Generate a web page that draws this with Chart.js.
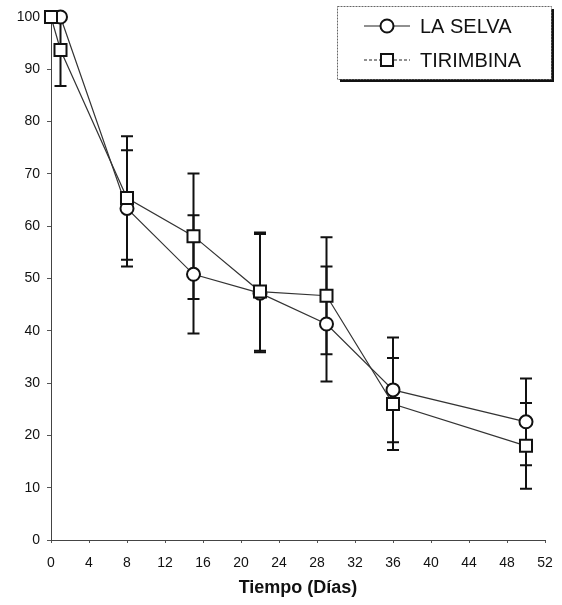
<!DOCTYPE html>
<html>
<head>
<meta charset="utf-8">
<script src="https://cdn.jsdelivr.net/npm/chart.js@4"></script>
<style>
  html, body { margin: 0; padding: 0; background: #fff; }
  #box { position: relative; width: 562px; height: 605px; }
</style>
</head>
<body>
<div id="box"><canvas id="myChart"></canvas></div>
<script>
const dias = [0, 1, 8, 15, 22, 29, 36, 50]
const ejeX = [0, 4, 8, 12, 16, 20, 24, 28, 32, 36, 40, 44, 48, 52]
const ejeY = [0, 10, 20, 30, 40, 50, 60, 70, 80, 90, 100]

// LA SELVA starts on day 1
const selva = [null, 100, 63.4, 50.8, 47.2, 41.3, 28.7, 22.6]
const selvaErr = [0, 0, 11.1, 11.3, 11.3, 11.0, 10.0, 8.3]
const tirimbina = [100, 93.7, 65.4, 58.1, 47.5, 46.7, 26.0, 18.0]
const tirimbinaErr = [0, 6.9, 11.8, 12.0, 11.3, 11.2, 8.8, 8.2]

const series = [
    { label: 'LA SELVA', values: selva, err: selvaErr, style: 'circle', radius: 6.5 },
    { label: 'TIRIMBINA', values: tirimbina, err: tirimbinaErr, style: 'rect', radius: 8.5 },
]

const font = 'Liberation Sans, Arial, sans-serif'

// vertical error bars with caps, under the markers
const errorBars = {
    id: 'errorBars',
    beforeDatasetsDraw(chart) {
        const { ctx, scales: { x, y } } = chart
        ctx.save()
        ctx.strokeStyle = '#111'
        ctx.lineWidth = 2
        series.forEach((s) => {
            s.values.forEach((v, i) => {
                if (v === null || !s.err[i]) return
                const px = x.getPixelForValue(dias[i])
                const top = y.getPixelForValue(v + s.err[i])
                const bottom = y.getPixelForValue(v - s.err[i])
                ctx.beginPath()
                ctx.moveTo(px, top)
                ctx.lineTo(px, bottom)
                ctx.moveTo(px - 6, top)
                ctx.lineTo(px + 6, top)
                ctx.moveTo(px - 6, bottom)
                ctx.lineTo(px + 6, bottom)
                ctx.stroke()
            })
        })
        ctx.restore()
    },
}

// boxed legend with a drop shadow in the top right corner
const boxLegend = {
    id: 'boxLegend',
    afterDraw(chart) {
        const ctx = chart.ctx
        const bx = 337, by = 6, bw = 214, bh = 73
        ctx.save()
        ctx.fillStyle = '#111'
        ctx.fillRect(bx + 3, by + 3, bw, bh)
        ctx.fillStyle = '#fff'
        ctx.fillRect(bx, by, bw, bh)
        ctx.strokeStyle = '#666'
        ctx.lineWidth = 1
        ctx.setLineDash([2, 1])
        ctx.strokeRect(bx + 0.5, by + 0.5, bw, bh)
        ctx.setLineDash([])

        series.forEach((s, i) => {
            const ly = 26 + i * 34
            ctx.strokeStyle = '#222'
            ctx.lineWidth = 1.2
            if (i === 1) ctx.setLineDash([3, 2])
            ctx.beginPath()
            ctx.moveTo(364, ly)
            ctx.lineTo(410, ly)
            ctx.stroke()
            ctx.setLineDash([])
            ctx.fillStyle = '#fff'
            ctx.strokeStyle = '#111'
            ctx.lineWidth = 2
            Chart.helpers.drawPoint(ctx, { pointStyle: s.style, radius: s.radius, rotation: 0, borderWidth: 2 }, 387, ly)
            ctx.fillStyle = '#111'
            ctx.font = '20px ' + font
            ctx.textAlign = 'left'
            ctx.textBaseline = 'middle'
            ctx.fillText(s.label, 420, ly + 1)
        })
        ctx.restore()
    },
}

const datasets = series.map((s, i) => ({
    label: s.label,
    data: s.values.map((v, j) => (v === null ? null : { x: dias[j], y: v })).filter((p) => p),
    borderColor: '#333',
    borderWidth: 1.2,
    pointStyle: s.style,
    pointRadius: s.radius,
    pointBorderWidth: 2,
    pointBorderColor: '#111',
    pointBackgroundColor: '#fff',
    tension: 0,
    clip: false,
    order: 1 - i,
}))

new Chart(document.getElementById('myChart'), {
    type: 'line',
    data: { datasets },
    options: {
        responsive: true,
        maintainAspectRatio: false,
        animation: false,
        layout: { padding: { left: 0, right: 17, top: 17, bottom: 0 } },
        plugins: {
            legend: { display: false },
            tooltip: { enabled: false },
        },
        scales: {
            x: {
                type: 'linear',
                min: ejeX[0],
                max: ejeX[ejeX.length - 1],
                afterBuildTicks: (scale) => {
                    scale.ticks = ejeX.map((v) => ({ value: v }))
                },
                afterFit: (scale) => {
                    scale.height = 65
                    scale.paddingLeft = 0
                    scale.paddingRight = 0
                },
                grid: { drawOnChartArea: false, tickLength: 3, color: '#555' },
                border: { display: true, color: '#444', width: 1, dash: [2, 1] },
                ticks: {
                    color: '#111',
                    padding: 12,
                    maxRotation: 0,
                    font: { family: font, size: 14 },
                },
                title: {
                    display: true,
                    text: 'Tiempo (Días)',
                    color: '#111',
                    padding: { top: 0, bottom: 6 },
                    font: { family: font, size: 18, weight: 'bold' },
                },
            },
            y: {
                min: ejeY[0],
                max: ejeY[ejeY.length - 1],
                afterBuildTicks: (scale) => {
                    scale.ticks = ejeY.map((v) => ({ value: v }))
                },
                afterFit: (scale) => {
                    scale.width = 51
                    scale.paddingTop = 0
                    scale.paddingBottom = 0
                },
                grid: { drawOnChartArea: false, tickLength: 4, color: '#555' },
                border: { display: true, color: '#444', width: 1, dash: [2, 1] },
                ticks: {
                    color: '#111',
                    padding: 7,
                    font: { family: font, size: 14 },
                },
            },
        },
    },
    plugins: [errorBars, boxLegend],
})
</script>
</body>
</html>
